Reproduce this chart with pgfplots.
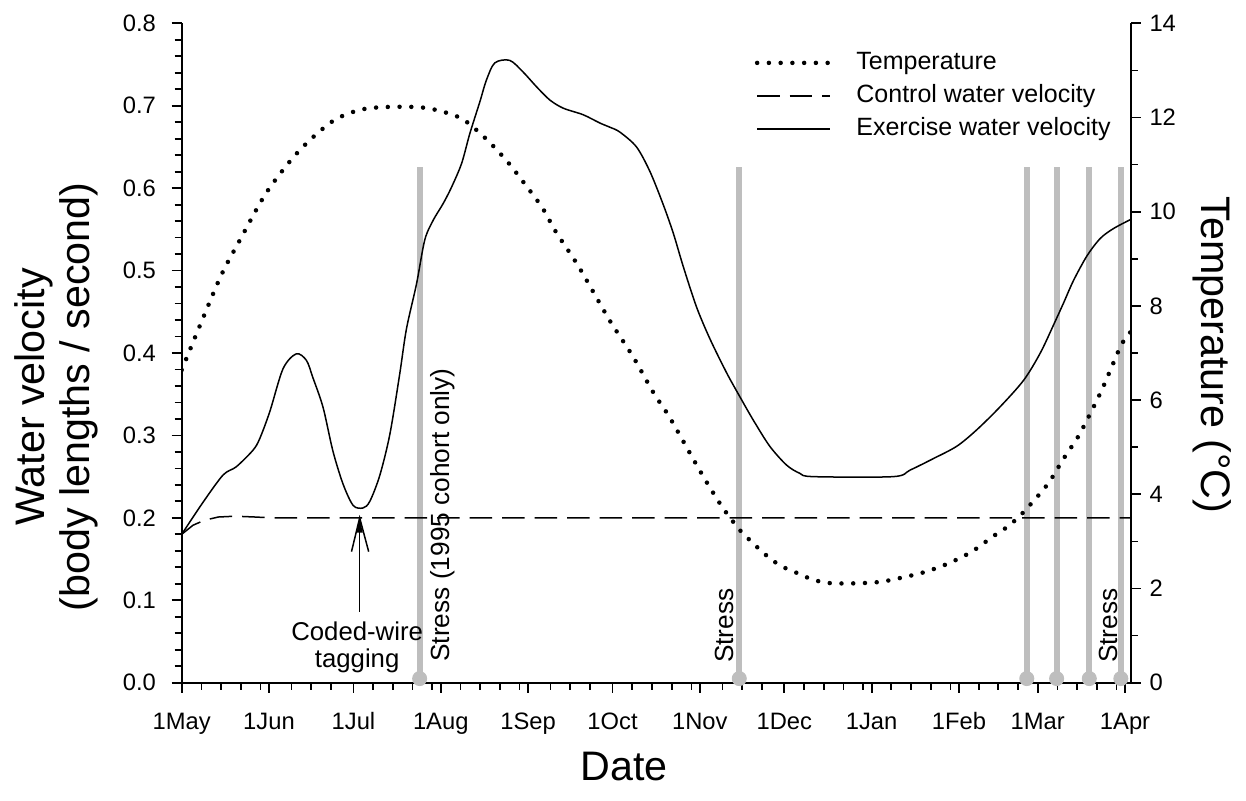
\documentclass[border=0pt]{standalone}
\usepackage{fontspec}
\setmainfont{Liberation Sans}
\usepackage{pgfplots}
\usepackage{pgfplotstable}
\pgfplotsset{compat=1.18}
\definecolor{stressgray}{RGB}{190,190,190}

% day 0 = 1 May
\pgfplotstableread{
day T
0 6.64
7.0 7.66
14.1 8.66
20.6 9.39
29.7 10.37
39.0 11.11
46.6 11.58
54.6 11.96
63.2 12.16
71.5 12.22
83.9 12.22
91.7 12.14
99.9 11.96
108.2 11.54
115.7 11.06
122.2 10.56
128.1 10.08
132.9 9.57
140.6 8.87
148.5 8.05
152.6 7.63
160.3 6.92
167.4 6.17
172.8 5.68
177.5 5.19
182.2 4.69
187.0 4.20
192.3 3.70
198.2 3.24
202.4 2.99
206.5 2.76
210.7 2.56
214.8 2.42
218.9 2.32
223.1 2.21
227.2 2.14
231.4 2.11
239.7 2.11
248.0 2.14
255.7 2.23
263.9 2.35
272.2 2.53
280.5 2.78
288.2 3.11
293.0 3.30
297.1 3.51
301.2 3.77
307.7 4.23
313.1 4.75
318.4 5.23
322.6 5.71
326.7 6.21
330.3 6.71
333.8 7.19
337.0 7.45
}\temptable

\pgfplotstableread{
day v
0 0.180
7.6 0.219
14.7 0.252
19.4 0.262
25.3 0.282
27.7 0.296
31.3 0.329
36.0 0.381
40.7 0.399
44.3 0.391
46.6 0.370
50.2 0.334
53.7 0.281
57.3 0.241
60.9 0.215
64.4 0.212
66.8 0.220
70.3 0.251
73.9 0.301
77.4 0.374
79.8 0.429
83.4 0.484
86.3 0.537
89.3 0.561
92.8 0.581
95.8 0.601
99.4 0.630
102.3 0.666
105.9 0.705
108.2 0.731
111.2 0.752
116.5 0.755
121.2 0.741
126.0 0.723
130.7 0.707
135.5 0.697
142.6 0.689
148.5 0.679
152.0 0.674
155.6 0.668
161.5 0.650
166.3 0.620
171.0 0.580
174.6 0.545
178.1 0.505
182.8 0.456
187.6 0.417
193.5 0.376
198.2 0.347
202.9 0.319
208.8 0.287
214.8 0.264
219.5 0.254
224.2 0.250
252.7 0.250
258.7 0.258
267.0 0.272
275.3 0.287
282.4 0.307
290.7 0.335
299.0 0.367
304.9 0.400
309.6 0.434
313.2 0.461
316.7 0.488
321.5 0.518
326.2 0.539
330.9 0.551
337.0 0.562
}\exertable

\pgfplotstableread{
day v
0 0.180
4 0.191
8 0.197
13 0.201
19 0.202
26 0.201
32 0.200
337 0.200
}\contable

\pgfplotstableread{
day top
84.5 0.626
198.0 0.626
300.1 0.626
310.7 0.626
322.3 0.626
333.5 0.626
}\stresstable

\tikzset{
  tempstyle/.style={black, line width=1.8pt, line cap=round, dash pattern=on 0pt off 4.7pt},
  constyle/.style={black, line width=0.6pt, dash pattern=on 9pt off 4pt},
  exstyle/.style={black, line width=0.6pt},
}

\pgfplotsset{
  commonax/.style={
    at={(0pt,0pt)}, anchor=south west,
    scale only axis, width=379.6pt, height=263.76pt,
    xmin=0, xmax=337,
    tick align=outside,
    major tick length=4pt, minor tick length=2.8pt,
    every tick/.style={black, line width=0.7pt},
    axis line style={black, line width=0.8pt},
    /pgf/number format/assume math mode=true,
    ticklabel style={font=\fontsize{9.5}{11}\selectfont},
  },
}

\begin{document}
\begin{tikzpicture}
\path[use as bounding box] (-72.68pt,-47.32pt) rectangle (425.72pt,273.08pt);

\begin{axis}[commonax,
  ymin=0, ymax=0.8,
  axis x line*=bottom, axis y line*=left,
  xtick={0,31,61,92,123,153,184,214,245,276,304,335},
  xticklabels={1May,1Jun,1Jul,1Aug,1Sep,1Oct,1Nov,1Dec,1Jan,1Feb,1Mar,1Apr},
  minor xtick={7,14,21,28,39,46,53,68,75,82,89,99,106,113,120,131,138,145,160,167,174,181,192,199,206,221,228,235,242,252,259,266,273,283,290,297,311,318,325,332},
  xticklabel style={anchor=north, text height=7pt, text depth=2pt, yshift=-4pt},
  ytick distance=0.1, minor y tick num=4,
  yticklabel style={/pgf/number format/fixed, /pgf/number format/fixed zerofill, /pgf/number format/precision=1, xshift=-2.8pt},
]
\addplot[stressgray, line width=2.4pt, ycomb] table[x=day, y=top] {\stresstable};
\addplot[stressgray, only marks, mark=*, mark size=2.8pt] table[x=day, y expr=0.005] {\stresstable};
\addplot[constyle] table[x=day, y=v] {\contable};
\addplot[exstyle, smooth, tension=0.5] table[x=day, y=v] {\exertable};

\node[rotate=90, anchor=north west, inner sep=0pt, font=\fontsize{10.5}{12}\selectfont] at (axis cs:88.1,0.025) {Stress (1995 cohort only)};
\node[rotate=90, anchor=south west, inner sep=0pt, font=\fontsize{10.5}{12}\selectfont] at (axis cs:196.3,0.0235) {Stress};
\node[rotate=90, anchor=south west, inner sep=0pt, font=\fontsize{10.5}{12}\selectfont] at (axis cs:332.6,0.0235) {Stress};

\node[align=center, anchor=north, inner sep=0pt, font=\fontsize{10.3}{10.8}\selectfont] at (axis cs:62.3,0.075) {Coded-wire\\tagging};
\draw[black, line width=0.6pt] (axis cs:63.2,0.086) -- (axis cs:63.2,0.2);
\draw[black, line width=0.6pt] (axis cs:60.3,0.159) -- (axis cs:63.2,0.2) -- (axis cs:66.4,0.159);
\fill[black] (axis cs:62.1,0.182) -- (axis cs:63.2,0.2) -- (axis cs:64.3,0.182) -- cycle;
\end{axis}

\begin{axis}[commonax,
  ymin=0, ymax=14,
  axis x line=none, axis y line*=right,
  ytick distance=2, minor y tick num=1,
  legend cell align=left,
  legend style={draw=none, fill=none, inner sep=0pt, outer sep=0pt,
    at={(0.604,0.957)}, anchor=north west,
    font=\fontsize{10}{11}\selectfont,
    nodes={inner sep=0pt, text height=7pt, text depth=2pt},
    row sep=4.2pt,
    /tikz/every odd column/.append style={column sep=9.6pt}},
  legend image code/.code={\draw[#1] (0pt,0pt) -- (29.2pt,0pt);},
]
\addplot[tempstyle, smooth, tension=0.5] table[x=day, y=T] {\temptable};
\addlegendentry{Temperature}
\addlegendimage{constyle}
\addlegendentry{Control water velocity}
\addlegendimage{exstyle}
\addlegendentry{Exercise water velocity}
\end{axis}

\node[rotate=90, align=center, font=\fontsize{16.5}{18}\selectfont] at (-50.1pt,114.3pt) {Water velocity\\(body lengths / second)};
\node[font=\fontsize{16.5}{18}\selectfont] at (176.9pt,-33.7pt) {Date};
\node[rotate=-90, font=\fontsize{16.5}{18}\selectfont] at (412.3pt,131.1pt) {Temperature (°C)};
\end{tikzpicture}
\end{document}
